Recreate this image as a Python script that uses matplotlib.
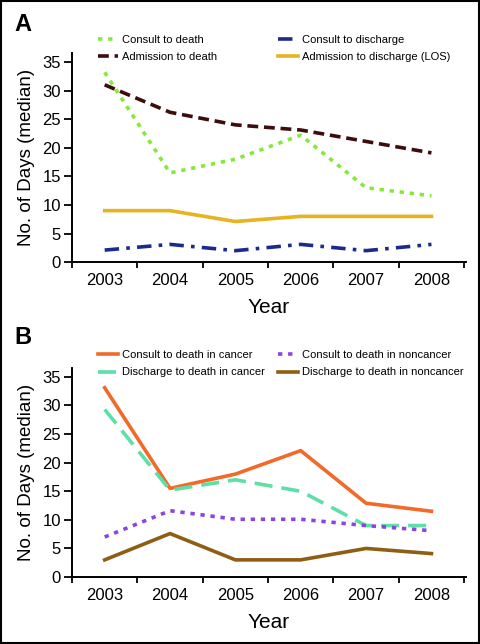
import numpy as np
import matplotlib
matplotlib.use("Agg")
import matplotlib.pyplot as plt
from matplotlib.patches import Rectangle

plt.rcParams['font.family'] = ['Liberation Sans', 'DejaVu Sans']

# -----------------------
# DATA
# -----------------------
years = [2003, 2004, 2005, 2006, 2007, 2008]

# panel A
consult_to_death = [33.2, 15.6, 18.0, 22.2, 13.0, 11.6]
admission_to_death = [31.0, 26.2, 24.0, 23.1, 21.1, 19.1]
consult_to_discharge = [2.1, 3.1, 2.0, 3.1, 2.0, 3.1]
admission_to_discharge = [9.0, 9.0, 7.1, 8.0, 8.0, 8.0]

# panel B
consult_death_cancer = [33.1, 15.5, 18.0, 22.1, 12.9, 11.5]
discharge_death_cancer = [29.3, 15.2, 17.0, 15.0, 9.0, 9.0]
consult_death_noncancer = [7.0, 11.6, 10.1, 10.1, 9.0, 8.1]
discharge_death_noncancer = [3.0, 7.6, 3.0, 3.0, 5.0, 4.1]

y_ticks = [0, 5, 10, 15, 20, 25, 30, 35]

# -----------------------
# FIGURE
# -----------------------
fig = plt.figure(figsize=(4.8, 6.44), dpi=100)
fig.patches.append(Rectangle((0.002, 0.002), 0.996, 0.996, transform=fig.transFigure,
                             fill=False, edgecolor="black", linewidth=1.5))

axA = fig.add_axes([0.150, 0.593, 0.821, 0.325])
axB = fig.add_axes([0.150, 0.104, 0.821, 0.325])

lw = 2.6

a1, = axA.plot(years, consult_to_death, color="#86e83c", linestyle=(0, (1.2, 1.6)),
               linewidth=lw, label="Consult to death")
a2, = axA.plot(years, admission_to_death, color="#3d0d0d", linestyle=(0, (3, 1.6)),
               linewidth=lw, label="Admission to death")
a3, = axA.plot(years, consult_to_discharge, color="#1b2a8c", linestyle=(0, (4, 2, 1, 2)),
               linewidth=lw, label="Consult to discharge")
a4, = axA.plot(years, admission_to_discharge, color="#e6b420", linestyle="-",
               linewidth=lw, label="Admission to discharge (LOS)")

b1, = axB.plot(years, consult_death_cancer, color="#f26a2a", linestyle="-",
               linewidth=lw, label="Consult to death in cancer")
b2, = axB.plot(years, discharge_death_cancer, color="#5de0a8", linestyle=(0, (5, 2.5)),
               linewidth=lw, label="Discharge to death in cancer")
b3, = axB.plot(years, consult_death_noncancer, color="#8a44e0", linestyle=(0, (1.2, 1.6)),
               linewidth=lw, label="Consult to death in noncancer")
b4, = axB.plot(years, discharge_death_noncancer, color="#8e5e14", linestyle="-",
               linewidth=lw, label="Discharge to death in noncancer")

legend_kw = dict(loc="center left", frameon=False, fontsize=8.0, handlelength=1.75,
                 handletextpad=0.35, labelspacing=0.65, borderaxespad=0, borderpad=0)

for ax, left, right, ytop in ((axA, [a1, a2], [a3, a4], 0.925), (axB, [b1, b2], [b3, b4], 0.435)):
    ax.set_xlim(2002.5, 2008.53)
    ax.set_ylim(0, 36.6)
    ax.set_yticks(y_ticks)
    ax.set_xticks(years)
    ax.set_xticklabels([str(y) for y in years])
    ax.set_xticks(np.arange(2002.5, 2009, 1.0), minor=True)
    ax.tick_params(axis="x", which="major", length=0, labelsize=12, pad=8)
    ax.tick_params(axis="x", which="minor", length=4, width=1.3, direction="out")
    ax.tick_params(axis="y", which="major", length=6, width=1.3, labelsize=12, pad=2)
    for s in ("top", "right"):
        ax.spines[s].set_visible(False)
    for s in ("left", "bottom"):
        ax.spines[s].set_linewidth(1.4)
    ax.set_xlabel("Year", fontsize=15, labelpad=7)
    ax.set_ylabel("No. of Days (median)", fontsize=13.5, labelpad=5)
    lg1 = ax.legend(handles=left, bbox_to_anchor=(0.205, ytop), bbox_transform=fig.transFigure,
                    **legend_kw)
    ax.add_artist(lg1)
    ax.legend(handles=right, bbox_to_anchor=(0.580, ytop), bbox_transform=fig.transFigure,
              **legend_kw)

fig.text(0.03, 0.962, "A", fontsize=17, fontweight="bold", va="center", ha="left")
fig.text(0.03, 0.476, "B", fontsize=17, fontweight="bold", va="center", ha="left")

fig.savefig("out.png", dpi=100)
